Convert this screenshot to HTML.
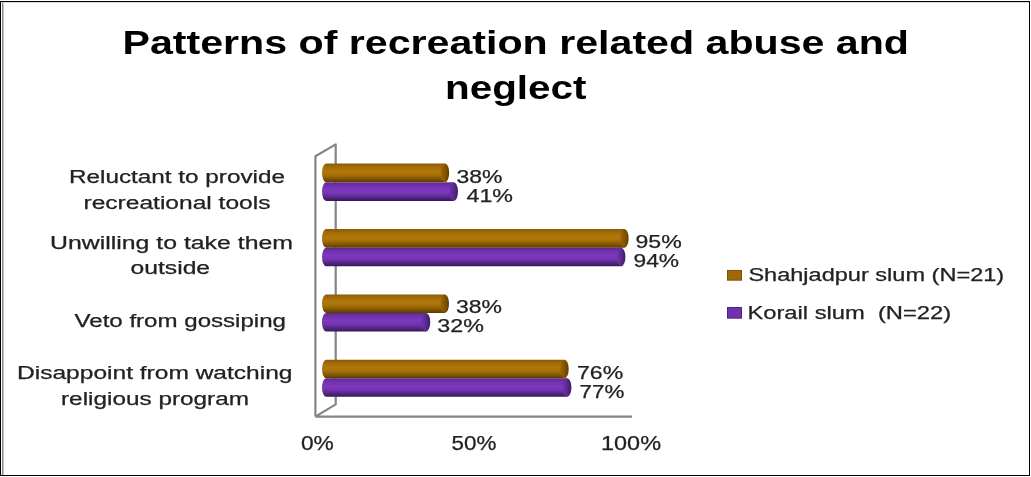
<!DOCTYPE html>
<html><head><meta charset="utf-8"><style>
html,body{margin:0;padding:0;background:#fff;}
svg{display:block;}
text{font-family:"Liberation Sans",sans-serif;}
svg{will-change:transform;}
</style></head><body>
<svg width="1031" height="477" viewBox="0 0 1031 477">
<defs>
<linearGradient id="go" x1="0" y1="0" x2="0" y2="1">
<stop offset="0" stop-color="#8a5a06"/><stop offset="0.2" stop-color="#a46c0a"/>
<stop offset="0.42" stop-color="#b27608"/><stop offset="0.62" stop-color="#a67006"/>
<stop offset="0.85" stop-color="#7c5200"/><stop offset="1" stop-color="#5a3a00"/>
</linearGradient>
<linearGradient id="gp" x1="0" y1="0" x2="0" y2="1">
<stop offset="0" stop-color="#5a2c8a"/><stop offset="0.18" stop-color="#7032aa"/>
<stop offset="0.42" stop-color="#7e38bf"/><stop offset="0.62" stop-color="#7534b2"/>
<stop offset="0.85" stop-color="#50247c"/><stop offset="1" stop-color="#36185a"/>
</linearGradient>
<linearGradient id="co" x1="0" y1="0" x2="1" y2="0">
<stop offset="0" stop-color="#9a6606"/><stop offset="0.5" stop-color="#845600"/><stop offset="1" stop-color="#5e3d00"/>
</linearGradient>
<linearGradient id="cp" x1="0" y1="0" x2="1" y2="0">
<stop offset="0" stop-color="#6e34aa"/><stop offset="0.5" stop-color="#5a2a8e"/><stop offset="1" stop-color="#3c1c64"/>
</linearGradient>
</defs>
<rect x="0" y="0" width="1031" height="477" fill="#fff"/>

<rect x="0" y="1" width="1030" height="475" fill="#000"/>
<rect x="1" y="2" width="1028" height="473" fill="#fff"/>
<rect x="2" y="3" width="1" height="472" fill="#8a8a8a"/>
<rect x="3" y="3" width="1" height="472" fill="#c4c4c4"/>
<rect x="1" y="2" width="1028" height="1" fill="#d8d8d8"/>
<path d="M315.4,416.6 L315.4,156.3 L335.7,144.4 L335.7,404.4 L315.4,416.6 M315.4,416.6 L632,416.6" fill="none" stroke="#858585" stroke-width="2.2" stroke-linejoin="round"/>
<path d="M445.00,163.50 L326.20,163.50 A4.2,9.30 0 0 0 326.20,182.10 L445.00,182.10 Z" fill="url(#go)"/><ellipse cx="445.00" cy="172.80" rx="4.2" ry="9.30" fill="url(#co)"/>
<path d="M453.80,182.30 L326.20,182.30 A4.2,9.30 0 0 0 326.20,200.90 L453.80,200.90 Z" fill="url(#gp)"/><ellipse cx="453.80" cy="191.60" rx="4.2" ry="9.30" fill="url(#cp)"/>
<path d="M624.40,229.10 L326.20,229.10 A4.2,9.30 0 0 0 326.20,247.70 L624.40,247.70 Z" fill="url(#go)"/><ellipse cx="624.40" cy="238.40" rx="4.2" ry="9.30" fill="url(#co)"/>
<path d="M621.20,247.70 L326.20,247.70 A4.2,9.30 0 0 0 326.20,266.30 L621.20,266.30 Z" fill="url(#gp)"/><ellipse cx="621.20" cy="257.00" rx="4.2" ry="9.30" fill="url(#cp)"/>
<path d="M444.80,294.40 L326.20,294.40 A4.2,9.25 0 0 0 326.20,312.90 L444.80,312.90 Z" fill="url(#go)"/><ellipse cx="444.80" cy="303.65" rx="4.2" ry="9.25" fill="url(#co)"/>
<path d="M426.00,312.90 L326.20,312.90 A4.2,9.30 0 0 0 326.20,331.50 L426.00,331.50 Z" fill="url(#gp)"/><ellipse cx="426.00" cy="322.20" rx="4.2" ry="9.30" fill="url(#cp)"/>
<path d="M564.50,359.80 L326.20,359.80 A4.2,9.20 0 0 0 326.20,378.20 L564.50,378.20 Z" fill="url(#go)"/><ellipse cx="564.50" cy="369.00" rx="4.2" ry="9.20" fill="url(#co)"/>
<path d="M567.20,378.20 L326.20,378.20 A4.2,9.25 0 0 0 326.20,396.70 L567.20,396.70 Z" fill="url(#gp)"/><ellipse cx="567.20" cy="387.45" rx="4.2" ry="9.25" fill="url(#cp)"/>
<text x="122.50" y="54.20" font-size="33" font-weight="bold" textLength="786.50" lengthAdjust="spacingAndGlyphs" fill="#000" xml:space="preserve">Patterns of recreation related abuse and</text>
<text x="445.00" y="98.60" font-size="33" font-weight="bold" textLength="141.50" lengthAdjust="spacingAndGlyphs" fill="#000" xml:space="preserve">neglect</text>
<text x="69.00" y="183.00" font-size="17.5" stroke="#222" stroke-width="0.25" textLength="216.00" lengthAdjust="spacingAndGlyphs" fill="#222" xml:space="preserve">Reluctant to provide</text>
<text x="83.50" y="208.50" font-size="17.5" stroke="#222" stroke-width="0.25" textLength="187.00" lengthAdjust="spacingAndGlyphs" fill="#222" xml:space="preserve">recreational tools</text>
<text x="50.00" y="248.60" font-size="17.5" stroke="#222" stroke-width="0.25" textLength="243.00" lengthAdjust="spacingAndGlyphs" fill="#222" xml:space="preserve">Unwilling to take them</text>
<text x="130.50" y="273.60" font-size="17.5" stroke="#222" stroke-width="0.25" textLength="79.60" lengthAdjust="spacingAndGlyphs" fill="#222" xml:space="preserve">outside</text>
<text x="74.50" y="327.40" font-size="17.5" stroke="#222" stroke-width="0.25" textLength="211.50" lengthAdjust="spacingAndGlyphs" fill="#222" xml:space="preserve">Veto from gossiping</text>
<text x="17.00" y="378.50" font-size="17.5" stroke="#222" stroke-width="0.25" textLength="275.50" lengthAdjust="spacingAndGlyphs" fill="#222" xml:space="preserve">Disappoint from watching</text>
<text x="61.00" y="404.70" font-size="17.5" stroke="#222" stroke-width="0.25" textLength="188.00" lengthAdjust="spacingAndGlyphs" fill="#222" xml:space="preserve">religious program</text>
<text x="456.50" y="183.10" font-size="18.5" stroke="#222" stroke-width="0.25" textLength="46.00" lengthAdjust="spacingAndGlyphs" fill="#222" xml:space="preserve">38%</text>
<text x="466.50" y="201.70" font-size="18.5" stroke="#222" stroke-width="0.25" textLength="46.50" lengthAdjust="spacingAndGlyphs" fill="#222" xml:space="preserve">41%</text>
<text x="635.50" y="247.70" font-size="18.5" stroke="#222" stroke-width="0.25" textLength="46.20" lengthAdjust="spacingAndGlyphs" fill="#222" xml:space="preserve">95%</text>
<text x="633.50" y="266.50" font-size="18.5" stroke="#222" stroke-width="0.25" textLength="45.60" lengthAdjust="spacingAndGlyphs" fill="#222" xml:space="preserve">94%</text>
<text x="456.00" y="313.30" font-size="18.5" stroke="#222" stroke-width="0.25" textLength="46.00" lengthAdjust="spacingAndGlyphs" fill="#222" xml:space="preserve">38%</text>
<text x="437.30" y="331.50" font-size="18.5" stroke="#222" stroke-width="0.25" textLength="46.60" lengthAdjust="spacingAndGlyphs" fill="#222" xml:space="preserve">32%</text>
<text x="577.00" y="378.90" font-size="18.5" stroke="#222" stroke-width="0.25" textLength="46.20" lengthAdjust="spacingAndGlyphs" fill="#222" xml:space="preserve">76%</text>
<text x="579.50" y="397.50" font-size="18.5" stroke="#222" stroke-width="0.25" textLength="44.80" lengthAdjust="spacingAndGlyphs" fill="#222" xml:space="preserve">77%</text>
<text x="301.00" y="450.00" font-size="20" stroke="#222" stroke-width="0.25" textLength="32.80" lengthAdjust="spacingAndGlyphs" fill="#222" xml:space="preserve">0%</text>
<text x="451.50" y="450.00" font-size="20" stroke="#222" stroke-width="0.25" textLength="44.80" lengthAdjust="spacingAndGlyphs" fill="#222" xml:space="preserve">50%</text>
<text x="601.00" y="450.00" font-size="20" stroke="#222" stroke-width="0.25" textLength="60.00" lengthAdjust="spacingAndGlyphs" fill="#222" xml:space="preserve">100%</text>
<text x="748.40" y="281.00" font-size="17.5" stroke="#222" stroke-width="0.25" textLength="255.80" lengthAdjust="spacingAndGlyphs" fill="#222" xml:space="preserve">Shahjadpur slum (N=21)</text>
<text x="747.40" y="318.70" font-size="17.5" stroke="#222" stroke-width="0.25" textLength="203.80" lengthAdjust="spacingAndGlyphs" fill="#222" xml:space="preserve">Korail slum  (N=22)</text>
<rect x="727" y="270" width="15" height="10.7" fill="#7e5204"/>
<rect x="728" y="271" width="13" height="8.7" fill="#a06808"/>
<rect x="727" y="307" width="15" height="11.7" fill="#4e2380"/>
<rect x="728" y="308" width="13" height="9.7" fill="#7232b0"/>
</svg></body></html>
